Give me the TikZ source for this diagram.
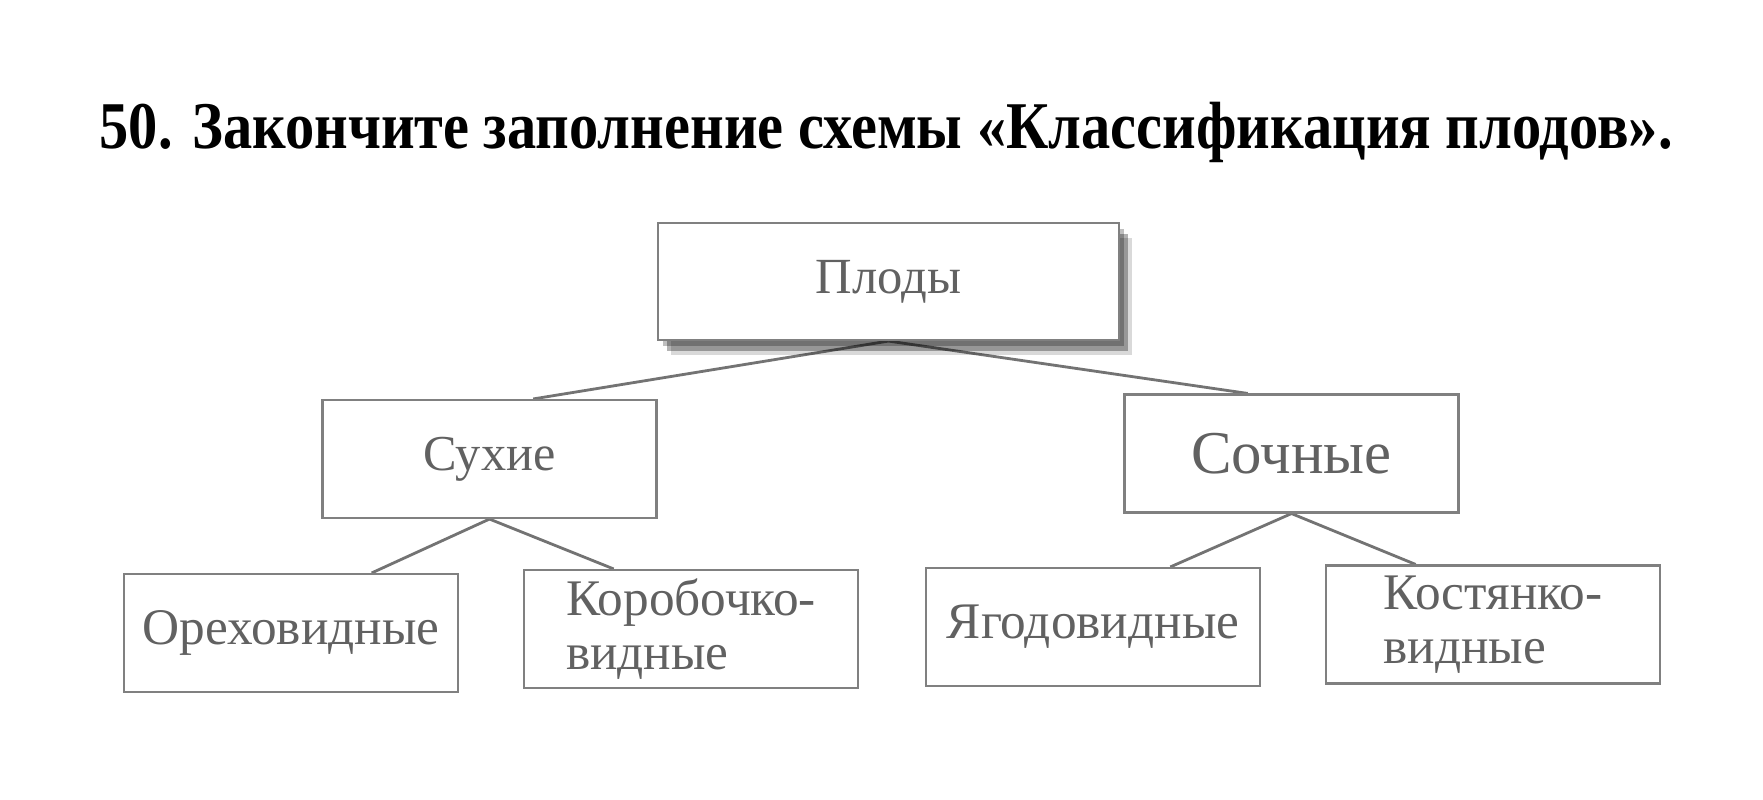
\documentclass[tikz,border=0pt]{standalone}
\usepackage{fontspec}
\setmainfont{Liberation Serif}
\usetikzlibrary{positioning, calc, shadows, backgrounds}

\begin{document}
\begin{tikzpicture}[
        box/.style={rectangle, draw=black!50, line width=0.6pt, fill=white, text=black!62, inner sep=0pt, minimum width=3.34cm, minimum height=1.18cm},
        lower/.style={box, font=\fontsize{14.6}{15.2}\selectfont},
        link/.style={draw=black!55, line width=0.8pt}
    ]
    \useasboundingbox (0,0) rectangle (17.63,-7.99);

    % Title
    \node[anchor=base west, inner sep=0pt, font=\bfseries\fontsize{19}{22}\selectfont] (title) at (0.99,-1.48)
        {\resizebox{15.73cm}{\height}{50. Закончите заполнение схемы «Классификация плодов».}};

    % Boxes
    \node[box, minimum width=4.61cm, minimum height=1.17cm, font=\fontsize{14.4}{17}\selectfont,
          drop shadow={shadow xshift=0.05cm, shadow yshift=-0.06cm, fill=black, opacity=0.25},
          drop shadow={shadow xshift=0.09cm, shadow yshift=-0.11cm, fill=black, opacity=0.3},
          drop shadow={shadow xshift=0.13cm, shadow yshift=-0.15cm, fill=black, opacity=0.15}] (fruits) at (8.885,-2.815) {Плоды};
    \node[box, font=\fontsize{14.3}{17}\selectfont] (dry) at (4.895,-4.59) {Сухие};
    \node[box, font=\fontsize{17.3}{20}\selectfont] (juicy) at (12.915,-4.535) {Сочные};

    \node[lower] (nut) at (2.91,-6.33) {Ореховидные};
    \node[lower, align=left] (capsule) at (6.91,-6.29) {Коробочко-\\видные};
    \node[lower] (berry) at (10.93,-6.27) {Ягодовидные};
    \node[lower, align=left] (drupe) at (14.93,-6.245) {Костянко-\\видные};

    % Links
    \begin{scope}[on background layer]
    \draw[link] (fruits.south) -- ($(dry.north west)!0.63!(dry.north east)$);
    \draw[link] (fruits.south) -- ($(juicy.north west)!0.37!(juicy.north east)$);
    \draw[link] (dry.south) -- ($(nut.north west)!0.74!(nut.north east)$);
    \draw[link] (dry.south) -- ($(capsule.north west)!0.27!(capsule.north east)$);
    \draw[link] (juicy.south) -- ($(berry.north west)!0.73!(berry.north east)$);
    \draw[link] (juicy.south) -- ($(drupe.north west)!0.27!(drupe.north east)$);
    \end{scope}
\end{tikzpicture}
\end{document}
